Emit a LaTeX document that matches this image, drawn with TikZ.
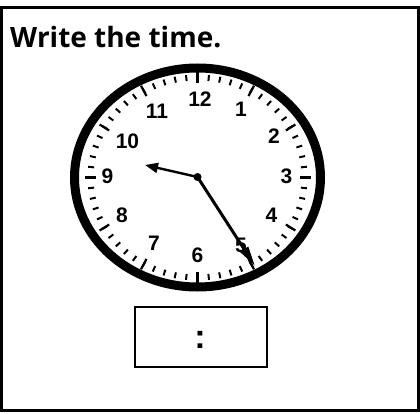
\documentclass[tikz,border=0pt]{standalone}
\usepackage{fontspec}
\setmainfont{Open Sans}
\newfontfamily\digitfont{Liberation Sans}
\usetikzlibrary{arrows.meta}
\tikzset{
  frame/.style={line width=2.2pt},
  numlabel/.style={inner sep=0pt, font=\digitfont\bfseries\fontsize{21}{22}\selectfont},
  hourtick/.style={line width=2.2pt},
  minutetick/.style={line width=2pt},
  ring/.style={line width=9pt},
  hand/.style={line width=2.4pt},
}
\begin{document}
\begin{tikzpicture}[x=1pt,y=-1pt]
\useasboundingbox (0,0) rectangle (420,414);
\fill[white] (0,0) rectangle (420,414);
\draw[frame] (1.5,7.5) rectangle (418.5,410.5);
\node[anchor=base west, inner sep=0pt, font=\bfseries\fontsize{28}{30}\selectfont] (title) at (10,48) {Write the time.};
% clock ring
\coordinate (c) at (197.5,177.5);
\draw[ring] (c) ellipse [x radius=123pt, y radius=109.5pt];
% minute ticks
\foreach \i in {0,...,59} {
  \pgfmathsetmacro{\a}{6*\i}
  \draw[minutetick] ({197.5+110*sin(\a)},{177.5-103*cos(\a)}) -- ({197.5+104*sin(\a)},{177.5-97*cos(\a)});
}
% hour ticks
\foreach \i in {0,...,11} {
  \pgfmathsetmacro{\a}{30*\i}
  \draw[hourtick] ({197.5+113*sin(\a)},{177.5-106*cos(\a)}) -- ({197.5+102*sin(\a)},{177.5-94*cos(\a)});
}
% numbers
\node[numlabel] (n12) at (200,99) {12};
\node[numlabel] (n1) at (241,109.5) {1};
\node[numlabel] (n2) at (274,136.5) {2};
\node[numlabel] (n3) at (286.5,176.5) {3};
\node[numlabel] (n4) at (271.5,215.5) {4};
\node[numlabel] (n5) at (241,245) {5};
\node[numlabel] (n6) at (197.5,255) {6};
\node[numlabel] (n7) at (154,243.5) {7};
\node[numlabel] (n8) at (122,215.5) {8};
\node[numlabel] (n9) at (107.5,176.5) {9};
\node[numlabel] (n10) at (127.5,141.5) {10};
\node[numlabel] (n11) at (157,111) {11};
% hands
\coordinate (hc) at (197.5,177);
\coordinate (htip) at (145,165);
\coordinate (mtip) at (255,266);
\draw[hand, -{Triangle[length=13pt,width=10pt]}] (hc) -- (htip);
\draw[hand, line width=3pt, -{Triangle[length=20pt,width=9pt]}] (hc) -- (mtip);
\fill (hc) circle (4pt);
% answer box
\node[draw, line width=2pt, minimum width=132pt, minimum height=60pt, inner sep=0pt] (box) at (200.5,336.5) {};
\node[inner sep=0pt, font=\digitfont\bfseries\fontsize{34}{36}\selectfont] (colon) at (200,340) {:};
\end{tikzpicture}
\end{document}
